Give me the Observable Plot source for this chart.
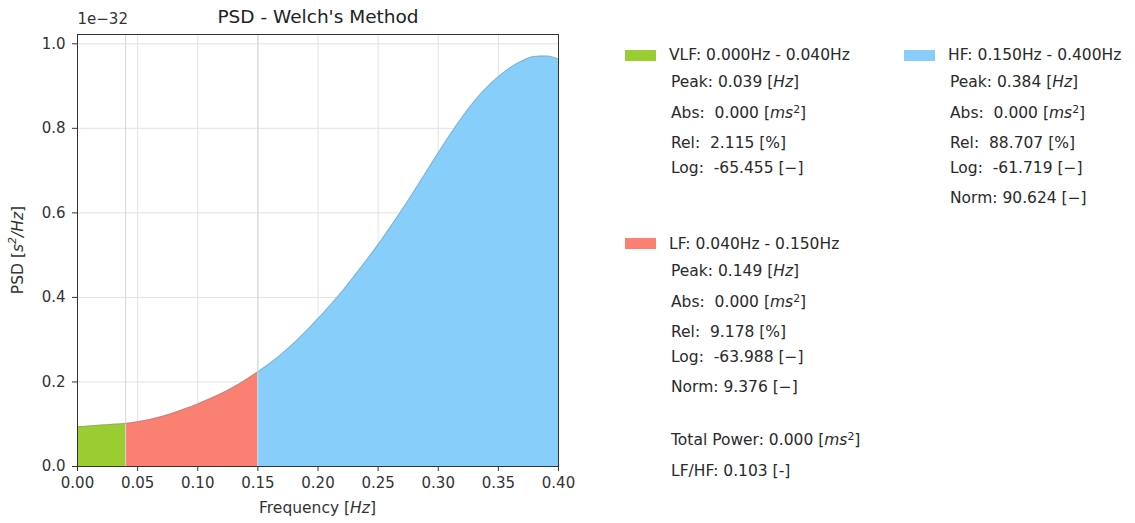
<!DOCTYPE html>
<html><head><meta charset="utf-8">
<script src="https://cdn.jsdelivr.net/npm/d3@7"></script>
<script src="https://cdn.jsdelivr.net/npm/@observablehq/plot@0.6"></script>
<style>
body{margin:0;background:#fff;font-family:"DejaVu Sans",sans-serif;}
#wrap{position:relative;width:1135px;height:523px;overflow:hidden;}
#chart{position:absolute;left:0;top:0;}
.leg{position:absolute;font-size:15.5px;color:#2a2a2a;white-space:pre;line-height:16px;height:16px;transform:translateY(-50%);}
.sw{position:absolute;width:31px;height:11px;}
sup{font-size:0.7em;vertical-align:0.45em;line-height:0;}
</style></head><body>
<div id="wrap"><div id="chart"></div></div>
<script>
// ---- data (PSD values in units of 1e-32 s²/Hz) ----
const freqs = [0.00,0.01,0.02,0.03,0.04,0.05,0.06,0.07,0.08,0.09,0.10,0.11,0.12,0.13,0.14,0.15,0.16,0.17,0.18,0.19,0.20,0.21,0.22,0.23,0.24,0.25,0.26,0.27,0.28,0.29,0.30,0.31,0.32,0.33,0.34,0.35,0.36,0.37,0.38,0.39,0.40];
const psd   = [0.094,0.096,0.098,0.100,0.102,0.106,0.111,0.118,0.127,0.137,0.148,0.160,0.173,0.188,0.205,0.224,0.244,0.267,0.292,0.320,0.350,0.381,0.414,0.450,0.487,0.525,0.566,0.608,0.652,0.697,0.742,0.786,0.827,0.864,0.896,0.922,0.944,0.960,0.970,0.971,0.964];
const xTicks = [0,0.05,0.10,0.15,0.20,0.25,0.30,0.35,0.40];
const yTicks = [0,0.2,0.4,0.6,0.8,1.0];
const bandNames  = ["VLF","LF","HF"];
const bandRanges = [[0,0.04],[0.04,0.15],[0.15,0.40]];
const bandColors = ["#9acd32","#fa8072","#87cefa"];
const peakHz  = ["0.039","0.149","0.384"];
const absMs2  = ["0.000","0.000","0.000"];
const relPct  = ["2.115","9.178","88.707"];
const logVal  = ["-65.455","-63.988","-61.719"];
const normVal = [null,"9.376","90.624"];
const totalPower = "0.000";
const lfHf = "0.103";
const title = "PSD - Welch's Method";
const offsetText = "1e\u221232";

const curve = freqs.map((f,i)=>({f, v: psd[i]}));
const areas = bandNames.map((b,i)=>Plot.areaY(
  curve.filter(d=>d.f>=bandRanges[i][0]-1e-9 && d.f<=bandRanges[i][1]+1e-9),
  {x:"f", y:"v", fill: bandColors[i], curve:"monotone-x"}));

const chart = Plot.plot({
  width: 600, height: 523,
  marginLeft: 77, marginRight: 42, marginTop: 34, marginBottom: 57,
  style: {fontFamily: "DejaVu Sans", fontSize: "15px", color: "#333", background: "#fff"},
  x: {domain: [0, 0.4], label: null},
  y: {domain: [0, 1.022], label: null},
  marks: [
    Plot.gridX(xTicks, {stroke: "#e2e2e2", strokeOpacity: 1}),
    Plot.gridY(yTicks, {stroke: "#e2e2e2", strokeOpacity: 1}),
    ...areas,
    Plot.ruleX([bandRanges[0][1], bandRanges[1][1]], {stroke: "#d6d6d6"}),
    Plot.line(curve, {x: "f", y: "v", stroke: "#7a8a99", strokeOpacity: 0.45, strokeWidth: 1, curve: "monotone-x"}),
    Plot.axisX(xTicks, {tickSize: 5, tickPadding: 6, tickFormat: d3.format(".2f"), label: null, fontSize: 15}),
    Plot.axisY(yTicks, {tickSize: 5, tickPadding: 7, tickFormat: d3.format(".1f"), label: null, fontSize: 15}),
    Plot.frame({stroke: "#333"}),
    Plot.text([title], {frameAnchor: "top", lineAnchor: "middle", dy: -17, fontSize: 18.5, fill: "#222"}),
    Plot.text([offsetText], {frameAnchor: "top-left", lineAnchor: "middle", textAnchor: "start", dy: -15, fontSize: 15, fill: "#333"})
  ]
});
document.getElementById("chart").appendChild(chart);

// axis labels with italic units
const svg = d3.select(chart.tagName.toLowerCase()==="svg" ? chart : chart.querySelector("svg"));
const xl = svg.append("text").attr("x", 317.5).attr("y", 508).attr("text-anchor","middle")
  .attr("dominant-baseline","central").attr("font-size",15.5).attr("fill","#333");
xl.append("tspan").text("Frequency [");
xl.append("tspan").attr("font-style","italic").text("Hz");
xl.append("tspan").text("]");
const yl = svg.append("text").attr("transform","translate(18,250) rotate(-90)").attr("text-anchor","middle")
  .attr("dominant-baseline","central").attr("font-size",15.5).attr("fill","#333");
yl.append("tspan").text("PSD [");
yl.append("tspan").attr("font-style","italic").text("s");
yl.append("tspan").attr("font-style","italic").attr("font-size",11).attr("dy",-6).text("2");
yl.append("tspan").attr("font-style","italic").attr("dy",6).text("/Hz");
yl.append("tspan").text("]");

// legend
const wrap = document.getElementById("wrap");
function addText(x, y, html){
  const d = document.createElement("div"); d.className="leg";
  d.style.left = x+"px"; d.style.top = y+"px"; d.innerHTML = html; wrap.appendChild(d);
}
const fmt3 = d3.format(".3f");
const legendPos = [{x:625, y:55}, {x:625, y:243.5}, {x:904, y:55}];
const lineOff = [27, 58, 88, 113, 143];
bandNames.forEach((b,i)=>{
  const p = legendPos[i];
  const sw = document.createElement("div"); sw.className="sw";
  sw.style.left = p.x+"px"; sw.style.top = (p.y-5.5)+"px"; sw.style.background = bandColors[i];
  wrap.appendChild(sw);
  addText(p.x+44, p.y, `${b}: ${fmt3(bandRanges[i][0])}Hz - ${fmt3(bandRanges[i][1])}Hz`);
  const tx = p.x+46;
  addText(tx, p.y+lineOff[0], `Peak: ${peakHz[i]} [<i>Hz</i>]`);
  addText(tx, p.y+lineOff[1], `Abs:  ${absMs2[i]} [<i>ms</i><sup>2</sup>]`);
  addText(tx, p.y+lineOff[2], `Rel:  ${relPct[i]} [%]`);
  addText(tx, p.y+lineOff[3], `Log:  ${logVal[i]} [\u2212]`);
  if (normVal[i]) addText(tx, p.y+lineOff[4], `Norm: ${normVal[i]} [\u2212]`);
});
addText(671, 440, `Total Power: ${totalPower} [<i>ms</i><sup>2</sup>]`);
addText(671, 471, `LF/HF: ${lfHf} [-]`);
</script></body></html>
